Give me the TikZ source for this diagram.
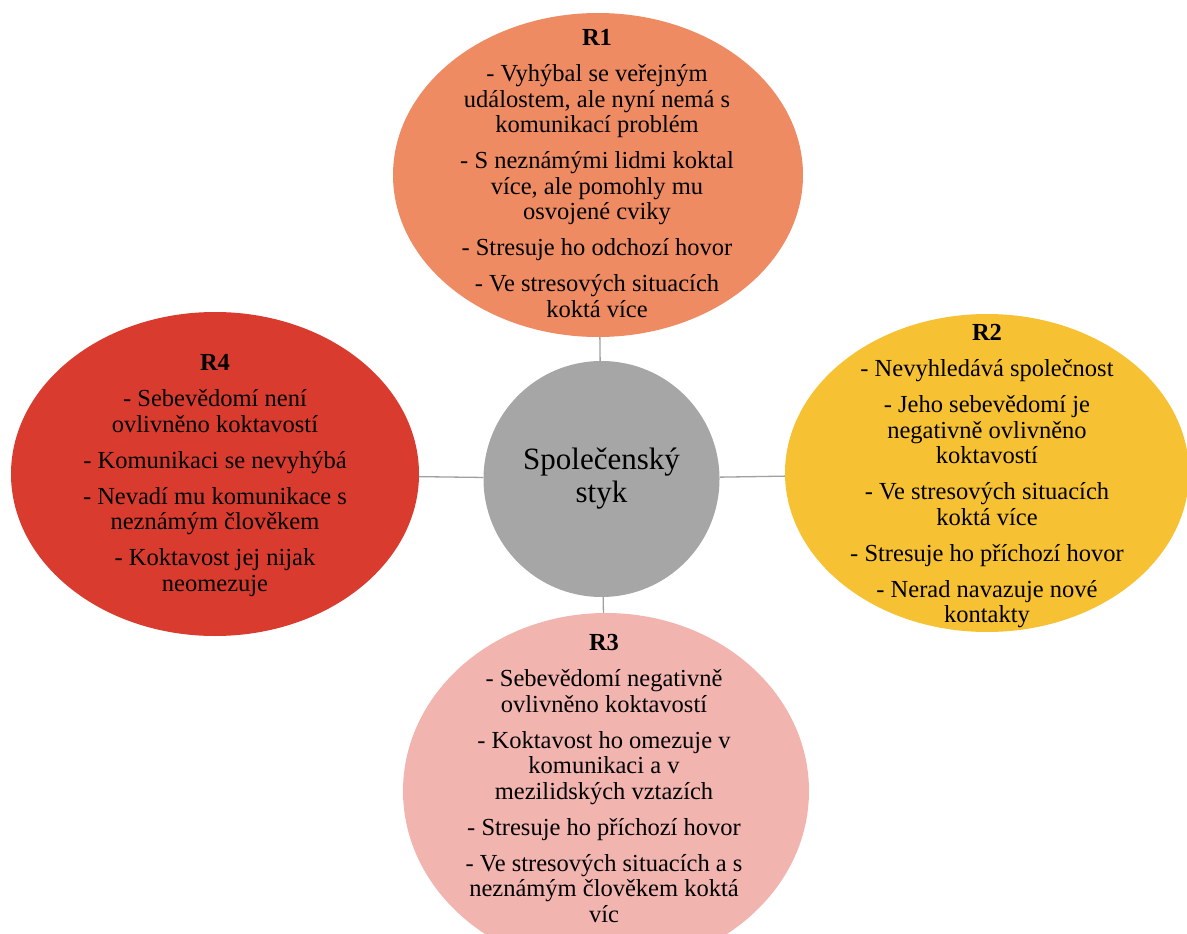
\documentclass[tikz,border=0pt]{standalone}
\usepackage{fontspec}
\setmainfont{Liberation Serif}
\usetikzlibrary{shapes.geometric}
\definecolor{cRone}{RGB}{238,139,99}
\definecolor{cRtwo}{RGB}{246,193,50}
\definecolor{cRthree}{RGB}{242,180,175}
\definecolor{cRfour}{RGB}{218,59,47}
\definecolor{cgray}{RGB}{166,166,166}
\definecolor{linkgray}{RGB}{160,160,160}
\begin{document}
\begin{tikzpicture}[x=1pt,y=-1pt,
  blob/.style={ellipse, inner sep=0pt, draw=none},
  txt/.style={anchor=north, inner sep=0pt, align=center, font=\fontsize{24.5}{25.5}\selectfont, text=black},
  link/.style={draw=linkgray, line width=1.3pt}]
\useasboundingbox (0,0) rectangle (1187,934);
\clip (0,0) rectangle (1187,934);
\node[blob, fill=cRone, minimum width=410pt, minimum height=324pt] (r1) at (598,175) {};
\node[blob, fill=cRtwo, minimum width=404pt, minimum height=318pt] (r2) at (987,473) {};
\node[blob, fill=cRthree, minimum width=406pt, minimum height=356pt] (r3) at (606,791) {};
\node[blob, fill=cRfour, minimum width=408pt, minimum height=324pt] (r4) at (215,474) {};
\node[circle, fill=cgray, minimum size=236pt, inner sep=0pt, align=center, font=\fontsize{31}{33}\selectfont] (c) at (601.5,479) {Společenský\\styk};
\draw[link] (c) -- (r1);
\draw[link] (c) -- (r2);
\draw[link] (c) -- (r3);
\draw[link] (c) -- (r4);
\node[txt] (t1) at (597,29.4) {\textbf{R1}\\[10.5pt]
- Vyhýbal se veřejným\\ událostem, ale nyní nemá s\\ komunikací problém\\[10.5pt]
- S neznámými lidmi koktal\\ více, ale pomohly mu\\ osvojené cviky\\[10.5pt]
- Stresuje ho odchozí hovor\\[10.5pt]
- Ve stresových situacích\\ koktá více};
\node[txt] (t2) at (987,324.4) {\textbf{R2}\\[10.5pt]
- Nevyhledává společnost\\[10.5pt]
- Jeho sebevědomí je\\ negativně ovlivněno\\ koktavostí\\[10.5pt]
- Ve stresových situacích\\ koktá více\\[10.5pt]
- Stresuje ho příchozí hovor\\[10.5pt]
- Nerad navazuje nové\\ kontakty};
\node[txt] (t3) at (604,634.4) {\textbf{R3}\\[10.5pt]
- Sebevědomí negativně\\ ovlivněno koktavostí\\[10.5pt]
- Koktavost ho omezuje v\\ komunikaci a v\\ mezilidských vztazích\\[10.5pt]
- Stresuje ho příchozí hovor\\[10.5pt]
- Ve stresových situacích a s\\ neznámým člověkem koktá\\ víc};
\node[txt] (t4) at (215,354.4) {\textbf{R4}\\[10.5pt]
- Sebevědomí není\\ ovlivněno koktavostí\\[10.5pt]
- Komunikaci se nevyhýbá\\[10.5pt]
- Nevadí mu komunikace s\\ neznámým člověkem\\[10.5pt]
- Koktavost jej nijak\\ neomezuje};
\end{tikzpicture}
\end{document}
